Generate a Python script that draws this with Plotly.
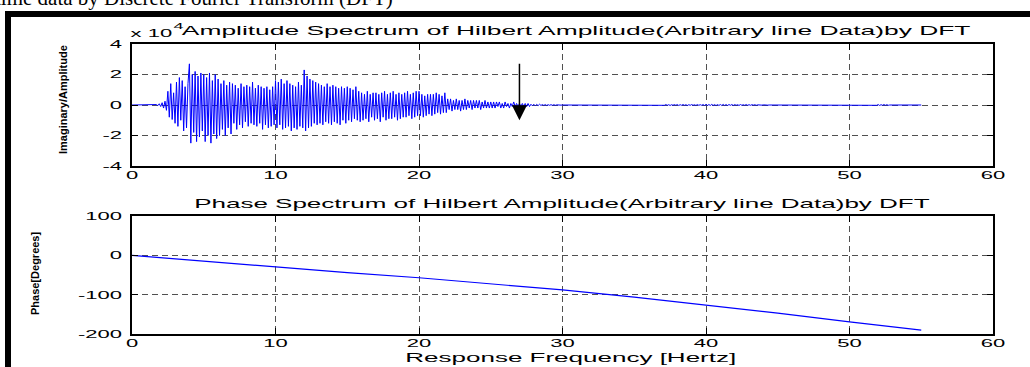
import numpy as np
import plotly.graph_objects as go

# ---------------- data ----------------
# Amplitude spectrum, sampled every 0.1 Hz from 0 to 55 Hz, values in units of 1e3
amplitude_k = [
    0, 0, 0, 0, 0, 0, 0, 0, 0, 0,                              # 0 Hz
    0, 0, 0, 0, 0, 0, 0, 0.3, -0.4, 0.8,                       # 1
    -1, 1.5, -2, 2.5, -3.5, 9, -8, 14, -9.5, 8,                # 2
    -12, 15, -14, 18, -10, 16, -17, 12, -15, 14,               # 3
    27, -25, 20, -18, 22, -24, 19, -21, 21, -17,               # 4
    20, -24, 18, -20, 21, -25, 16, -19, 20, -22,               # 5
    17, -20, 14, -16, 16, -20, 13, -15, 15, -19,               # 6
    14, -12, 13, -16, 11, -13, 14, -15, 12, -11,               # 7
    13, -14, 12, -12, 15, -13, 11, -14, 13, -12,               # 8
    12, -16, 11, -13, 12, -15, 10, -14, 12, -13,               # 9
    16, -15, 15, -13, 17, -16, 14, -15, 16, -14,               # 10
    14, -17, 13, -15, 12, -16, 15, -14, 13, -15,               # 11
    23, -17, 19, -15, 17, -14, 16, -12, 15, -13,               # 12
    14, -12, 13, -13, 12, -11, 14, -12, 12, -13,               # 13
    13, -11, 12, -12, 11, -13, 12, -10, 11, -12,               # 14
    12, -10, 11, -11, 10, -9, 12, -10, 9, -11,                 # 15
    8, -10, 7, -9, 9, -11, 7, -8, 8, -10,                      # 16
    8, -9, 7, -11, 8, -8, 9, -10, 7, -9,                       # 17
    8, -9, 9, -8, 7, -10, 8, -9, 7, -8,                        # 18
    8, -8, 9, -7, 7, -9, 8, -8, 9, -7,                         # 19
    9, -7, 7, -8, 6, -7, 7, -6, 7, -7,                         # 20
    7, -6, 8, -5, 7, -6, 6, -5, 8, -5,                         # 21
    4, -3, 4, -4, 3, -3, 4, -3, 3, -4,                         # 22
    3, -3, 4, -3, 3, -2, 3, -3, 3, -2,                         # 23
    3, -2, 3, -3, 2, -2, 3, -2, 2, -2,                         # 24
    2, -2, 2, -2, 2, -1, 2, -2, 1, -2,                         # 25
    2, -1, 1, -2, 1, -1, 2, -1, 1, -1,                         # 26
    1, -1, 1, -1, 1, -1, 1, -1, 0.5, -0.5,                     # 27
    0.5, -0.5, 0.4, -0.4, 0.5, -0.3, 0.3, -0.3, 0.3, -0.3,     # 28
    0.2, -0.2, 0.2, -0.2, 0.2, -0.2, 0.1, -0.1, 0.1, -0.1,     # 29
    0, 0, 0, 0, 0, 0, 0, 0, 0, 0,                              # 30
    0, 0, 0, 0, 0, 0, 0, 0, 0, 0,                              # 31
    0, 0, 0, 0, 0, 0, 0, 0, 0, 0,                              # 32
    0, 0, 0, 0, 0, 0, 0, 0, 0.1, -0.1,                         # 33
    0, 0, 0, 0, 0, 0, 0, 0, 0, 0,                              # 34
    0, 0, 0, 0, 0.1, -0.1, 0, 0, 0, 0,                         # 35
    0, 0, 0, 0, 0, 0, 0, 0, 0, 0,                              # 36
    0.2, -0.2, 0.3, -0.2, 0.2, -0.3, 0.2, -0.2, 0.3, -0.2,     # 37
    0.3, -0.3, 0.2, -0.2, 0.3, -0.2, 0.2, -0.3, 0.2, -0.2,     # 38
    0.3, -0.2, 0.2, -0.3, 0.3, -0.2, 0.2, -0.2, 0.3, -0.3,     # 39
    0.4, -0.3, 0.3, -0.3, 0.4, -0.3, 0.3, -0.4, 0.3, -0.3,     # 40
    0.3, -0.3, 0.4, -0.3, 0.3, -0.3, 0.3, -0.2, 0.3, -0.3,     # 41
    0.3, -0.2, 0.2, -0.3, 0.3, -0.2, 0.2, -0.2, 0.3, -0.2,     # 42
    0.2, -0.2, 0.2, -0.1, 0.2, -0.2, 0.1, -0.1, 0.2, -0.1,     # 43
    0.1, -0.1, 0.1, -0.1, 0, 0, 0, 0, 0, 0,                    # 44
    0, 0, 0, 0, 0, 0, 0.1, -0.1, 0, 0,                         # 45
    0, 0, 0, 0, 0, 0, 0, 0, 0, 0,                              # 46
    0, 0, 0, 0, 0, 0, 0, 0, 0, 0,                              # 47
    0, 0, 0, 0, 0, 0, 0, 0, 0, 0,                              # 48
    0, 0, 0, 0, 0, 0, 0, 0, 0, 0,                              # 49
    0, 0, 0, 0, 0, 0, 0, 0, 0, 0,                              # 50
    0, 0, 0, 0, 0, 0, 0, 0, 0.2, -0.2,                         # 51
    0.3, -0.3, 0.2, -0.2, 0.3, -0.2, 0.2, -0.2, 0, 0,          # 52
    0, 0, 0, 0, 0, 0, 0, 0, 0, 0,                              # 53
    0, 0, 0, 0, 0, 0, 0, 0, 0, 0,                              # 54
    0,                                                         # 55
]
amp_step_hz = 0.1

# Phase spectrum (degrees) read every 5 Hz
phase_freq = [0, 5, 10, 15, 20, 25, 30, 35, 40, 45, 50, 55]
phase_deg = [0, -15, -30, -44, -57, -72, -88, -106, -126, -147, -169, -190]

# Ticks
x_ticks = [0, 10, 20, 30, 40, 50, 60]
amp_tickvals = [-4e4, -2e4, 0, 2e4, 4e4]
amp_ticktext = ["-4", "-2", "0", "2", "4"]
phase_tickvals = [-200, -100, 0, 100]
phase_ticktext = ["-200", "-100", "0", "100"]

# Arrow marker (frequency in Hz, amplitude values)
arrow_freq = 27.0
arrow_top = 2.8e4
arrow_tip = -1.0e4

# Texts
header_text = "time data by Discrete Fourier Transform (DFT)"
amp_title = "Amplitude Spectrum of Hilbert Amplitude(Arbitrary line Data)by DFT"
phase_title = "Phase Spectrum of Hilbert Amplitude(Arbitrary line Data)by DFT"
amp_ylabel = "Imaginary/Amplitude"
phase_ylabel = "Phase[Degrees]"
x_label = "Response Frequency [Hertz]"

# ---------------- figure ----------------
W, H = 1030, 367
amp_freq = np.round(np.arange(len(amplitude_k)) * amp_step_hz, 2)
amp_vals = np.array(amplitude_k, dtype=float) * 1e3

def px(x):
    return x / W

def py(y):
    return (H - y) / H

SANS = "Liberation Sans, Arial, sans-serif"
BLUE = "#0000ff"

fig = go.Figure()
fig.add_trace(go.Scatter(x=amp_freq, y=amp_vals, mode="lines",
                         line=dict(color=BLUE, width=1), xaxis="x", yaxis="y",
                         hoverinfo="skip", showlegend=False))
fig.add_trace(go.Scatter(x=phase_freq, y=phase_deg, mode="lines",
                         line=dict(color=BLUE, width=1.2), xaxis="x2", yaxis="y2",
                         hoverinfo="skip", showlegend=False))

x_dom = [px(132), px(993)]
common_axis = dict(
    showline=True, linecolor="black", linewidth=1.5, mirror="ticks",
    ticks="inside", ticklen=6, tickwidth=1, tickcolor="black",
    showgrid=True, gridcolor="#505050", gridwidth=1, griddash="6px,4px",
    zeroline=False, tickfont=dict(family=SANS, size=11, color="black"),
    fixedrange=True, automargin=False,
)

fig.update_layout(
    width=W, height=H, autosize=False,
    margin=dict(l=0, r=0, t=0, b=0, pad=0, autoexpand=False),
    paper_bgcolor="white", plot_bgcolor="white",
    showlegend=False,
    xaxis=dict(domain=x_dom, range=[0, 60], tickvals=x_ticks, anchor="y",
               ticklabelstandoff=-2, **common_axis),
    yaxis=dict(domain=[py(166), py(44)], range=[-4e4, 4e4], tickvals=amp_tickvals,
               ticktext=amp_ticktext, anchor="x", ticklabelstandoff=6, **common_axis),
    xaxis2=dict(domain=x_dom, range=[0, 60], tickvals=x_ticks, anchor="y2",
                ticklabelstandoff=-2, **common_axis),
    yaxis2=dict(domain=[py(334), py(216)], range=[-200, 100], tickvals=phase_tickvals,
                ticktext=phase_ticktext, anchor="x2", ticklabelstandoff=6, **common_axis),
)

# Frame (thick black border of the original figure)
fig.add_shape(type="rect", xref="paper", yref="paper", x0=px(5), x1=1, y0=py(17), y1=py(11),
              fillcolor="black", line=dict(width=0), layer="above")
fig.add_shape(type="rect", xref="paper", yref="paper", x0=px(5), x1=px(11), y0=0, y1=py(11),
              fillcolor="black", line=dict(width=0), layer="above")

ann = []
ann.append(dict(text=header_text, xref="paper", yref="paper", x=px(-7), y=py(-1.5), xanchor="left",
                yanchor="middle", showarrow=False,
                font=dict(family="Liberation Serif, Times New Roman, serif", size=21, color="black")))
ann.append(dict(text=amp_title, xref="paper", yref="paper", x=px(576), y=py(30.5),
                xanchor="center", yanchor="middle", showarrow=False,
                font=dict(family=SANS, size=13.2, color="black")))
ann.append(dict(text=phase_title, xref="paper", yref="paper", x=px(562), y=py(203.5),
                xanchor="center", yanchor="middle", showarrow=False,
                font=dict(family=SANS, size=13, color="black")))
ann.append(dict(text=x_label, xref="paper", yref="paper", x=px(570), y=py(357.5),
                xanchor="center", yanchor="middle", showarrow=False,
                font=dict(family=SANS, size=13, color="black")))
ann.append(dict(text="x 10", xref="paper", yref="paper", x=px(151), y=py(33),
                xanchor="center", yanchor="middle", showarrow=False,
                font=dict(family=SANS, size=11, color="black")))
ann.append(dict(text="4", xref="paper", yref="paper", x=px(178), y=py(26),
                xanchor="center", yanchor="middle", showarrow=False,
                font=dict(family=SANS, size=9, color="black")))
ann.append(dict(text=amp_ylabel, xref="paper", yref="paper", x=px(63), y=py(100),
                xanchor="center", yanchor="middle", showarrow=False, textangle=-90,
                font=dict(family=SANS, size=11, color="black", weight="bold")))
ann.append(dict(text=phase_ylabel, xref="paper", yref="paper", x=px(35), y=py(274),
                xanchor="center", yanchor="middle", showarrow=False, textangle=-90,
                font=dict(family=SANS, size=11, color="black", weight="bold")))
ann.append(dict(text="", xref="x", yref="y", x=arrow_freq, y=arrow_tip,
                axref="x", ayref="y", ax=arrow_freq, ay=arrow_top,
                showarrow=True, arrowhead=2, arrowsize=2, arrowwidth=1.5,
                arrowcolor="black", standoff=0, startstandoff=0))
fig.update_layout(annotations=ann)

post_js = """
(function(){
  var st = document.createElement('style');
  st.textContent = 'html,body{margin:0 !important;padding:0 !important;overflow:hidden;}';
  document.head.appendChild(st);
  var K = 2.0;
  function rotated(el){
    while (el && el.tagName && el.tagName.toLowerCase() !== 'svg'){
      var tr = el.getAttribute && el.getAttribute('transform');
      if (tr) {
        var m = tr.match(/rotate\\(\\s*([-+0-9.eE]+)/);
        if (m && Math.abs(parseFloat(m[1])) > 0.01) return true;
      }
      el = el.parentNode;
    }
    return false;
  }
  function stretch(){
    var texts = document.querySelectorAll('svg.main-svg text');
    texts.forEach(function(t){
      var fam = (t.style && t.style.fontFamily) || '';
      if (fam.indexOf('Serif') >= 0) return;
      if (rotated(t)) return;
      var txt = t.textContent;
      if (!txt) return;
      if (t.getAttribute('data-txt') === txt && t.getAttribute('textLength')) return;
      t.removeAttribute('textLength');
      var w = t.getComputedTextLength();
      if (!(w > 0)) return;
      t.setAttribute('lengthAdjust', 'spacingAndGlyphs');
      t.setAttribute('textLength', (w*K).toFixed(2));
      t.setAttribute('data-txt', txt);
    });
  }
  var gd = document.getElementById('{plot_id}');
  stretch();
  if (gd && gd.on) gd.on('plotly_afterplot', stretch);
  setTimeout(stretch, 50);
  setTimeout(stretch, 300);
})();
"""

fig.write_html("out.html", post_script=post_js, config={"displayModeBar": False})
